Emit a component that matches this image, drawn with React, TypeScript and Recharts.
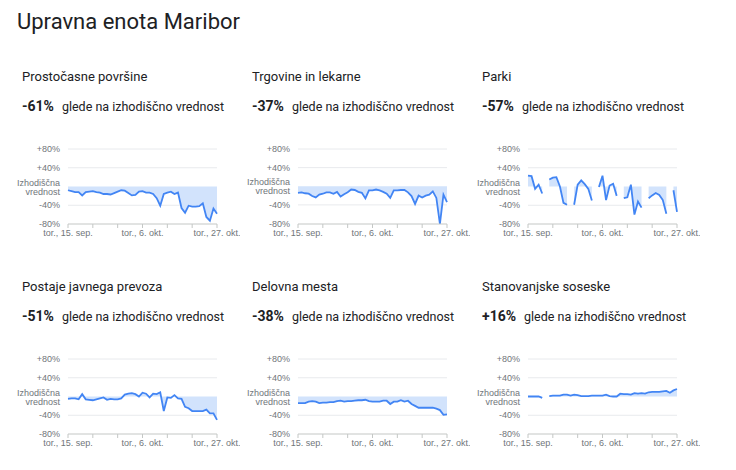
import React from "react";
import { ComposedChart, Area, XAxis, YAxis, CartesianGrid } from "recharts";

// days from tor., 15. sep. (0) to tor., 27. okt. (42)
const tickDays = [0, 7, 14, 21, 28, 35, 42];
const tickLabels = ["tor., 15. sep.", "", "", "tor., 6. okt.", "", "", "tor., 27. okt."];
const yTicks = [-80, -40, 0, 40, 80];

const titles = [
  "Prostočasne površine",
  "Trgovine in lekarne",
  "Parki",
  "Postaje javnega prevoza",
  "Delovna mesta",
  "Stanovanjske soseske",
];
const changes = ["-61%", "-37%", "-57%", "-51%", "-38%", "+16%"];

const prostocasne = [
  -8, -10, -12, -12, -19, -12, -11, -10, -12, -13, -16, -16, -17, -14, -11, -8, -9, -14, -19, -18, -11,
  -10, -13, -13, -16, -25, -41, -16, -13, -11, -16, -13, -46, -56, -41, -43, -43, -42, -36, -65, -73, -47, -58,
];
const trgovine = [
  -14, -13, -15, -16, -21, -24, -18, -16, -13, -13, -16, -12, -22, -17, -13, -7, -8, -12, -14, -26, -9,
  -9, -7, -9, -12, -16, -25, -9, -9, -8, -8, -13, -21, -38, -20, -24, -20, -18, -11, -25, -81, -18, -34,
];
const parki = [
  23, 22, -5, 4, -15, null, 15, 19, 20, 0, -35, -39, null, -39, 4, 13, 5, -5, -30, null, -1,
  23, -29, 2, 6, -20, null, -25, -23, 4, -60, -32, -45, null, -25, -19, -14, -18, -29, -58, null, -8, -54,
];
const prevoz = [
  -5, -4, -4, -6, 5, -6, -7, -8, -6, -4, -2, -7, -5, -6, -6, -4, 4, 6, 7, 5, 0,
  8, 6, -2, 6, 5, 9, -31, -2, -3, 3, -4, -5, -22, -25, -31, -31, -31, -31, -28, -36, -36, -50,
];
const delovna = [
  -14, -14, -14, -11, -10, -11, -14, -13, -13, -12, -12, -10, -9, -11, -10, -10, -9, -8, -8, -7, -10,
  -11, -11, -11, -9, -9, -16, -11, -11, -8, -11, -9, -16, -20, -24, -24, -24, -24, -24, -26, -29, -39, -38,
];
const stanovanjske = [
  0, 0, 0, 0, -3, null, 1, 2, 2, 2, 4, 4, 2, 4, 3, 1, 1, 1, 2, 2, 2,
  2, 4, 1, 0, 0, 6, 5, 5, 4, 7, 6, 7, 6, 9, 10, 10, 10, 11, 12, 8, 13, 16,
];
const series = [prostocasne, trgovine, parki, prevoz, delovna, stanovanjske];

const TEXT = "#202124";
const AXIS_TEXT = "#70757a";
const SANS = "Roboto, 'Noto Sans', sans-serif";
const TICK_FONT = "'Liberation Sans', Arial, sans-serif";

function YTick(props: any) {
  const { x, y, payload } = props;
  const v = payload.value;
  if (v === 0) {
    return (
      <text x={x} y={y} textAnchor="end" fontSize={9} fill={AXIS_TEXT} fontFamily={TICK_FONT}>
        <tspan x={x} dy={-1}>Izhodiščna</tspan>
        <tspan x={x} dy={9}>vrednost</tspan>
      </text>
    );
  }
  return (
    <text x={x} y={y} dy="0.355em" textAnchor="end" fontSize={9} fill={AXIS_TEXT} fontFamily={TICK_FONT}>
      {v > 0 ? `+${v}%` : `${v}%`}
    </text>
  );
}

function MiniChart({ values }: { values: (number | null)[] }) {
  const data = values.map((v, i) => ({ day: i, value: v }));
  return (
    <ComposedChart
      width={230}
      height={110}
      data={data}
      margin={{ top: 9, right: 23, bottom: 6, left: 0 }}
      style={{ overflow: "visible" }}
    >
      <CartesianGrid vertical={false} stroke="#e8eaed" horizontalValues={[80, 40, -40]} />
      <XAxis
        dataKey="day"
        type="number"
        domain={[0, 42]}
        ticks={tickDays}
        interval={0}
        tickFormatter={(v) => tickLabels[tickDays.indexOf(v)] ?? ""}
        tickSize={4}
        tickMargin={2}
        height={20}
        axisLine={{ stroke: "#c4c7c5" }}
        tickLine={{ stroke: "#c4c7c5" }}
        tick={{ fontSize: 9, fill: AXIS_TEXT, fontFamily: TICK_FONT }}
      />
      <YAxis
        type="number"
        domain={[-80, 80]}
        ticks={yTicks}
        interval={0}
        width={58}
        axisLine={false}
        tickLine={false}
        tick={<YTick />}
      />
      <Area
        type="linear"
        dataKey="value"
        baseValue={0}
        stroke="#4285f4"
        strokeWidth={1.8}
        fill="#d2e3fc"
        fillOpacity={1}
        dot={false}
        activeDot={false}
        connectNulls={false}
        isAnimationActive={false}
      />
    </ComposedChart>
  );
}

export default function App() {
  return (
    <div
      style={{
        position: "absolute",
        left: 0,
        top: 0,
        width: 736,
        height: 470,
        background: "#fff",
        fontFamily: SANS,
        color: TEXT,
      }}
    >
      <div style={{ position: "absolute", left: 17, top: 11, fontSize: 22, lineHeight: "22px" }}>
        Upravna enota Maribor
      </div>
      {titles.map((title, i) => {
        const col = i % 3;
        const row = Math.floor(i / 3);
        const left = col * 230;
        const top = row * 210;
        return (
          <div key={title} style={{ position: "absolute", left, top, width: 230, height: 260 }}>
            <div style={{ position: "absolute", left: 22, top: 70, fontSize: 13, lineHeight: "13px", whiteSpace: "nowrap" }}>
              {title}
            </div>
            <div style={{ position: "absolute", left: 22, top: 99, fontSize: 14, lineHeight: "14px", whiteSpace: "nowrap" }}>
              <span style={{ fontWeight: 700 }}>{changes[i]}</span>
              <span style={{ fontSize: 12.5, marginLeft: 8 }}>glede na izhodiščno vrednost</span>
            </div>
            <div style={{ position: "absolute", left: 10, top: 140 }}>
              <MiniChart values={series[i]} />
            </div>
          </div>
        );
      })}
    </div>
  );
}
